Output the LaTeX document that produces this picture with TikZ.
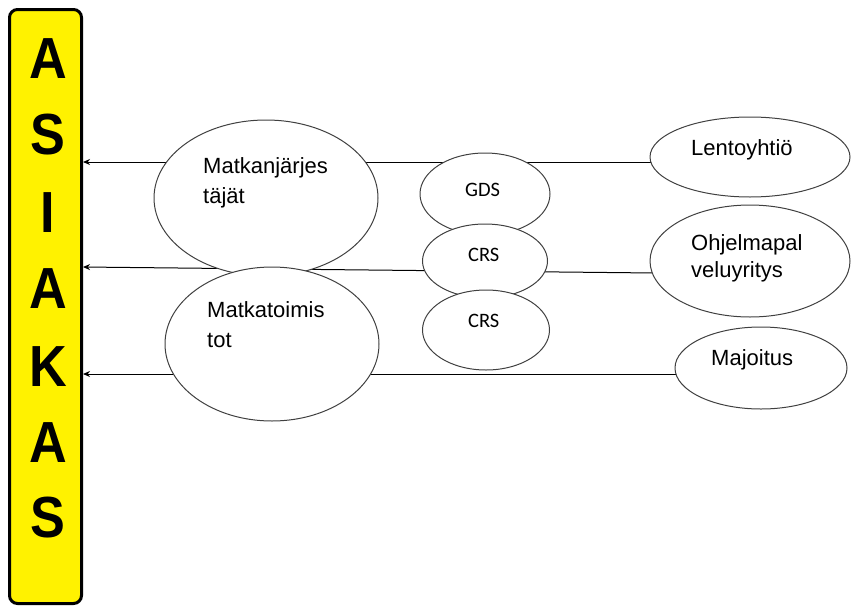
\documentclass[tikz,border=0pt]{standalone}
\usepackage{fontspec}
\setmainfont{Liberation Sans}
\newfontfamily\calib{Carlito}
\newfontfamily\bigsans[FakeStretch=0.9]{Liberation Sans}
\usetikzlibrary{shapes.geometric,arrows.meta,calc}
\pgfdeclarelayer{bg}
\pgfsetlayers{bg,main}
\begin{document}
\begin{tikzpicture}[x=1pt,y=-1pt,
  oval/.style={ellipse,draw=black!75,line width=1pt,fill=white,inner sep=0pt},
  lbl/.style={anchor=base west,inner sep=0pt,align=left,font=\fontsize{22}{30}\selectfont},
  clbl/.style={anchor=base west,inner sep=0pt,font=\calib\fontsize{20.5}{24}\selectfont},
  letter/.style={anchor=base,inner sep=0pt,font=\bigsans\bfseries\fontsize{58}{58}\selectfont},
  conn/.style={draw=black,line width=1pt,-{Stealth[length=7pt,width=6pt]}}]
\useasboundingbox (0,0) rectangle (851,608);
% customer bar
\node[draw=black,fill=yellow,line width=3pt,rounded corners=8pt,
      minimum width=72pt,minimum height=594pt,inner sep=0pt] (bar) at (45.5,306.5) {};
\node[letter] (a1) at (48,78) {A};
\node[letter] (s1) at (48,154) {S};
\node[letter] (i1) at (48,232) {I};
\node[letter] (a2) at (48,308) {A};
\node[letter] (k1) at (48,386) {K};
\node[letter] (a3) at (48,462) {A};
\node[letter] (s2) at (48,537) {S};
% ovals
\node[oval,minimum width=224pt,minimum height=156pt] (mj) at (266,198) {};
\node[oval,minimum width=214pt,minimum height=154pt] (mt) at (272,344) {};
\node[oval,minimum width=130pt,minimum height=82pt] (gds) at (485,194) {};
\node[oval,minimum width=125pt,minimum height=74pt] (crs1) at (485,261) {};
\node[oval,minimum width=127pt,minimum height=80pt] (crs2) at (486,330) {};
\node[oval,minimum width=200pt,minimum height=80pt] (lento) at (750,157) {};
\node[oval,minimum width=200pt,minimum height=112pt] (ohj) at (750,261) {};
\node[oval,minimum width=172pt,minimum height=82pt] (maj) at (761,368) {};
% labels (base anchor = last line's baseline)
\node[lbl] (mjT) at (203,203) {Matkanjärjes\\täjät};
\node[lbl] (mtT) at (207,347) {Matkatoimis\\tot};
\node[clbl] (gdsT) at (465,196) {GDS};
\node[clbl] (crsT1) at (468,261) {CRS};
\node[clbl] (crsT2) at (468,327) {CRS};
\node[lbl] (lentoT) at (691,155) {Lentoyhtiö};
\node[lbl,font=\fontsize{22}{27}\selectfont] (ohjT) at (691,277) {Ohjelmapal\\veluyritys};
\node[lbl] (majT) at (711,365) {Majoitus};
% connectors
\coordinate (l1) at (655,162);
\coordinate (l2) at (655,273);
\coordinate (l3) at (680,374);
\begin{pgfonlayer}{bg}
\draw[conn] (l1) -- (l1 -| bar.east);
\draw[conn] (l2) -- ($(l2 -| bar.east)+(0,-6)$);
\draw[conn] (l3) -- (l3 -| bar.east);
\end{pgfonlayer}
\end{tikzpicture}
\end{document}
